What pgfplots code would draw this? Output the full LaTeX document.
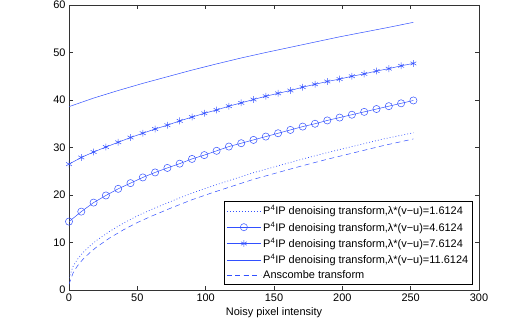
\documentclass[border=0pt]{standalone}
\usepackage{pgfplots}
\pgfplotsset{compat=1.18}
\usepackage{fontspec}
\setmainfont{Liberation Sans}
\definecolor{mblue}{RGB}{50,80,255}

\begin{document}
\begin{tikzpicture}
\useasboundingbox (-69bp,-40bp) rectangle (459bp,290bp);
\begin{axis}[
  scale only axis, width=410bp, height=285bp,
  xmin=0, xmax=300, ymin=0, ymax=60,
  xtick={0,50,...,300}, ytick={0,10,...,60},
  tick align=inside, major tick length=4bp,
  tick style={black!80, line width=0.5bp},
  axis line style={line width=0.6bp, black!80},
  font=\fontsize{11}{13}\selectfont,
  /pgf/number format/assume math mode=true,
  xlabel={Noisy pixel intensity},
  xlabel style={yshift=1bp},
  legend style={at={(rel axis cs:1,0)}, anchor=south east, xshift=-6bp, yshift=5bp,
    line width=0.6bp, font=\fontsize{11}{13}\selectfont,
    row sep=1.6bp, inner sep=2.5bp},
  legend cell align=left,
  legend image code/.code={\draw[mark repeat=2,mark phase=2,#1,draw=mblue] plot coordinates {(0bp,0bp) (17bp,0bp) (34bp,0bp)};},
]
% lambda*(v-u) = 1.6124, dotted
\addplot[mblue, no markers, dash pattern=on 0.8bp off 2.2bp, line width=0.7bp] coordinates {
(0,2.5) (3,5.0) (6,6.4) (10,7.8) (15,9.2) (20,10.4) (30,12.4) (40,14.1) (50,15.6)
(60,16.9) (75,18.7) (90,20.4) (105,21.9) (120,23.3) (135,24.7) (150,25.9)
(170,27.5) (190,29.0) (210,30.4) (230,31.8) (252,33.1)};
\addlegendentry{P\textsuperscript{4}IP denoising transform,λ*(v−u)=1.6124}
% lambda*(v-u) = 4.6124, circles
\addplot[mblue, line width=0.5bp, mark=o, mark size=3.6bp] coordinates {
(0,14.4) (9,16.5) (18,18.4) (27,19.9) (36,21.3) (45,22.5) (54,23.7) (63,24.75)
(72,25.7) (81,26.6) (90,27.6) (99,28.4) (108,29.3) (117,30.2) (126,30.9)
(135,31.6) (144,32.3) (153,33.0) (162,33.7) (171,34.4) (180,35.0) (189,35.7)
(198,36.3) (207,36.9) (216,37.5) (225,38.1) (234,38.7) (243,39.3) (252,39.9)};
\addlegendentry{P\textsuperscript{4}IP denoising transform,λ*(v−u)=4.6124}
% lambda*(v-u) = 7.6124, stars
\addplot[mblue, line width=0.5bp, mark=asterisk, mark size=3.4bp] coordinates {
(0,26.5) (9,27.9) (18,29.05) (27,30.1) (36,31.1) (45,32.1) (54,33.0) (63,33.9)
(72,34.7) (81,35.6) (90,36.4) (99,37.2) (108,37.9) (117,38.7) (126,39.4)
(135,40.1) (144,40.8) (153,41.4) (162,42.0) (171,42.7) (180,43.3) (189,43.9)
(198,44.4) (207,45.0) (216,45.5) (225,46.1) (234,46.6) (243,47.2) (252,47.7)};
\addlegendentry{P\textsuperscript{4}IP denoising transform,λ*(v−u)=7.6124}
% lambda*(v-u) = 11.6124, plain line
\addplot[mblue, no markers, line width=0.5bp] coordinates {
(0,38.6) (18,40.4) (36,42.0) (54,43.5) (72,44.9) (90,46.3) (108,47.6) (126,48.85)
(144,50.0) (162,51.1) (180,52.2) (198,53.3) (216,54.3) (234,55.3) (252,56.35)};
\addlegendentry{P\textsuperscript{4}IP denoising transform,λ*(v−u)=11.6124}
% Anscombe, dashed
\addplot[mblue, no markers, line width=0.5bp, dash pattern=on 5bp off 3.5bp] coordinates {
(0,1.2) (3,3.6) (6,5.0) (10,6.4) (15,7.8) (20,9.0) (30,11.0) (40,12.7) (50,14.2)
(60,15.5) (75,17.3) (90,19.0) (105,20.5) (120,21.9) (135,23.3) (150,24.5)
(170,26.1) (190,27.6) (210,29.0) (230,30.4) (252,31.8)};
\addlegendentry{Anscombe transform}
\end{axis}
\end{tikzpicture}
\end{document}
